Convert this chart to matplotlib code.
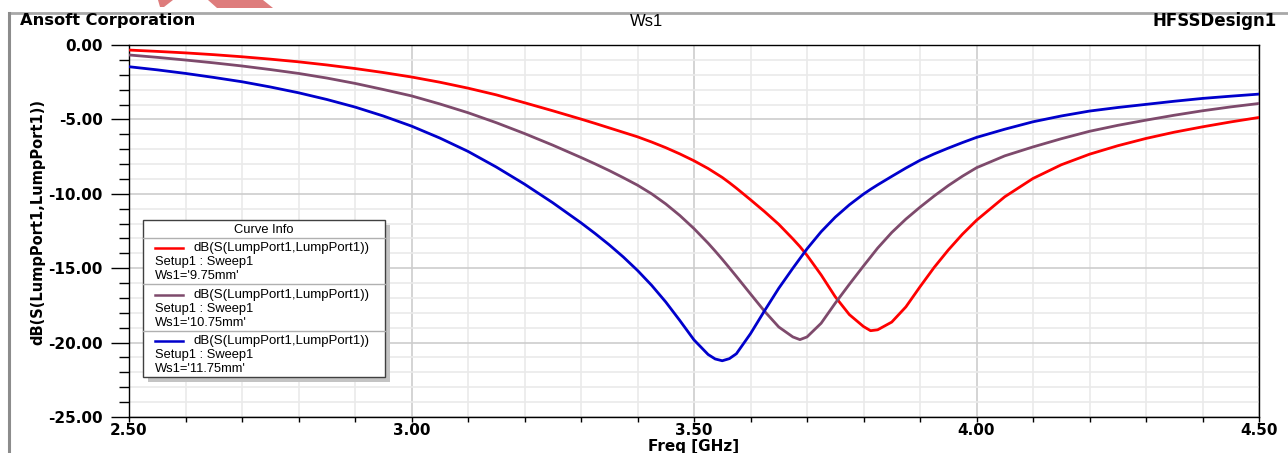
import matplotlib
matplotlib.use("Agg")
import matplotlib.pyplot as plt
from matplotlib.ticker import MultipleLocator, FormatStrFormatter
from matplotlib.patches import Rectangle, Polygon
from matplotlib.lines import Line2D

plt.rcParams["font.family"] = ["DejaVu Sans"]

# frequency points (GHz)
freq = [2.50, 2.55, 2.60, 2.65, 2.70, 2.75, 2.80, 2.85, 2.90, 2.95, 3.00, 3.05,
        3.10, 3.15, 3.20, 3.25, 3.30, 3.325, 3.35, 3.375, 3.40, 3.425, 3.45,
        3.475, 3.50, 3.525, 3.5375, 3.55, 3.5625, 3.575, 3.60, 3.625, 3.65,
        3.675, 3.6875, 3.70, 3.725, 3.75, 3.775, 3.80, 3.8125, 3.825, 3.85,
        3.875, 3.90, 3.925, 3.95, 3.975, 4.00, 4.05, 4.10, 4.15, 4.20, 4.25,
        4.30, 4.35, 4.40, 4.45, 4.50]

# dB(S11) for Ws1 = 9.75mm
s11_975 = [-0.34, -0.43, -0.53, -0.65, -0.79, -0.95, -1.13, -1.34, -1.58, -1.85,
           -2.15, -2.50, -2.90, -3.35, -3.88, -4.42, -4.98, -5.27, -5.57, -5.87,
           -6.17, -6.52, -6.90, -7.32, -7.78, -8.30, -8.60, -8.90, -9.25,
           -9.62, -10.40, -11.20, -12.05, -13.03, -13.55, -14.13, -15.45,
           -16.92, -18.12, -18.92, -19.20, -19.14, -18.62, -17.60, -16.25,
           -14.95, -13.78, -12.72, -11.78, -10.20, -8.97, -8.05, -7.34, -6.77,
           -6.28, -5.86, -5.50, -5.17, -4.87]

# dB(S11) for Ws1 = 10.75mm
s11_1075 = [-0.67, -0.83, -1.01, -1.20, -1.41, -1.65, -1.91, -2.22, -2.58, -2.99,
            -3.42, -3.96, -4.55, -5.22, -5.95, -6.73, -7.56, -7.99, -8.44,
            -8.92, -9.42, -10.00, -10.68, -11.46, -12.34, -13.32, -13.85,
            -14.40, -14.97, -15.55, -16.73, -17.90, -18.95, -19.62, -19.80,
            -19.62, -18.70, -17.35, -16.08, -14.85, -14.25, -13.65, -12.60,
            -11.70, -10.90, -10.15, -9.45, -8.82, -8.25, -7.45, -6.85, -6.30,
            -5.80, -5.40, -5.05, -4.72, -4.42, -4.16, -3.93]

# dB(S11) for Ws1 = 11.75mm
s11_1175 = [-1.46, -1.67, -1.91, -2.18, -2.47, -2.82, -3.21, -3.66, -4.17, -4.77,
            -5.45, -6.25, -7.15, -8.20, -9.35, -10.60, -11.95, -12.67, -13.43,
            -14.25, -15.15, -16.15, -17.27, -18.52, -19.82, -20.80, -21.10,
            -21.22, -21.08, -20.75, -19.40, -17.85, -16.35, -15.00, -14.35,
            -13.70, -12.55, -11.57, -10.74, -10.02, -9.70, -9.40, -8.83, -8.27,
            -7.75, -7.32, -6.93, -6.56, -6.21, -5.66, -5.16, -4.77, -4.44,
            -4.20, -3.99, -3.78, -3.59, -3.44, -3.30]

series = [
    (s11_975, "#FF0000", "Ws1='9.75mm'"),
    (s11_1075, "#7E4A6C", "Ws1='10.75mm'"),
    (s11_1175, "#0000CC", "Ws1='11.75mm'"),
]

W, H = 1288, 453


def fx(px):
    return px / W


def fy(py):
    return 1 - py / H


fig = plt.figure(figsize=(W / 100, H / 100), dpi=100)

ax = fig.add_axes([fx(129), fy(417), fx(1259) - fx(129), fy(45) - fy(417)])

for vals, color, _ in series:
    ax.plot(freq, vals, color=color, lw=2.0, zorder=3)

ax.set_xlim(2.5, 4.5)
ax.set_ylim(-25, 0)

ax.xaxis.set_major_locator(MultipleLocator(0.5))
ax.xaxis.set_minor_locator(MultipleLocator(0.1))
ax.yaxis.set_major_locator(MultipleLocator(5))
ax.yaxis.set_minor_locator(MultipleLocator(1))
ax.xaxis.set_major_formatter(FormatStrFormatter("%.2f"))
ax.yaxis.set_major_formatter(FormatStrFormatter("%.2f"))

ax.grid(True, which="major", color="#CDCDCD", lw=1.2, zorder=0)
ax.grid(True, which="minor", color="#EAEAEA", lw=1.2, zorder=0)

ax.tick_params(axis="y", which="major", length=13, width=1.0, direction="out",
               labelsize=11, pad=6)
ax.tick_params(axis="y", which="minor", length=7, width=1.0, direction="out")
ax.tick_params(axis="x", which="both", length=3.5, width=1.0, direction="out",
               labelsize=11, pad=1)
for lab in ax.get_xticklabels() + ax.get_yticklabels():
    lab.set_fontweight("bold")

for sp in ax.spines.values():
    sp.set_color("black")
    sp.set_linewidth(1.0)

ax.set_ylabel("dB(S(LumpPort1,LumpPort1))", fontsize=10.5, fontweight="bold")
ax.yaxis.set_label_coords(-0.0743, 0.524)
fig.text(fx(694), fy(446), "Freq [GHz]", fontsize=11, fontweight="bold",
         ha="center", va="center")

# header texts
fig.text(fx(20), fy(21), "Ansoft Corporation", fontsize=11.7,
         fontweight="bold", ha="left", va="center")
fig.text(fx(647), fy(21), "Ws1", fontsize=12, ha="center", va="center",
         family="Liberation Sans")
fig.text(fx(1277), fy(21), "HFSSDesign1", fontsize=12, fontweight="bold",
         ha="right", va="center")

# outer frame
fig.add_artist(Line2D([fx(9), fx(1288)], [fy(13), fy(13)], color="#A8A8A8",
                      lw=2.0))
fig.add_artist(Line2D([fx(9), fx(9)], [fy(13), fy(453)], color="#8C8C8C",
                      lw=2.2))

# watermark fragments at the top edge
fig.add_artist(Polygon([(fx(158), fy(0)), (fx(173), fy(0)), (fx(164), fy(7)),
                        (fx(160), fy(7))], closed=True, color="#DE7C7C", lw=0))
fig.add_artist(Polygon([(fx(208), fy(0)), (fx(263), fy(0)), (fx(273), fy(8)),
                        (fx(217), fy(8))], closed=True, color="#DE7C7C", lw=0))

# curve info box
bx0, by0, bx1, by1 = 143, 220, 385, 377
fig.add_artist(Rectangle((fx(bx0 + 5), fy(by1 + 5)), fx(bx1) - fx(bx0),
                         fy(by0) - fy(by1), facecolor="#C4C4C4", lw=0,
                         zorder=5))
fig.add_artist(Rectangle((fx(bx0), fy(by1)), fx(bx1) - fx(bx0),
                         fy(by0) - fy(by1), facecolor="white",
                         edgecolor="#404040", lw=1.0, zorder=6))
fig.text(fx((bx0 + bx1) / 2), fy(230), "Curve Info", fontsize=9.3,
         ha="center", va="center", zorder=7, family="Liberation Sans")
for sep in (238, 284, 331):
    fig.add_artist(Line2D([fx(bx0), fx(bx1)], [fy(sep), fy(sep)],
                          color="#B0B0B0", lw=1.0, zorder=7))

for i, (_, color, ws_label) in enumerate(series):
    y0 = 248 + i * 46.7
    fig.add_artist(Line2D([fx(155), fx(183)], [fy(y0), fy(y0)], color=color,
                          lw=1.8, zorder=7))
    fig.text(fx(193), fy(y0), "dB(S(LumpPort1,LumpPort1))", fontsize=9.5,
             ha="left", va="center", zorder=7, family="Liberation Sans")
    fig.text(fx(155), fy(y0 + 14), "Setup1 : Sweep1", fontsize=9.3,
             ha="left", va="center", zorder=7, family="Liberation Sans")
    fig.text(fx(155), fy(y0 + 28), ws_label, fontsize=9.3, ha="left",
             va="center", zorder=7, family="Liberation Sans")

fig.savefig("out.png", dpi=100)
